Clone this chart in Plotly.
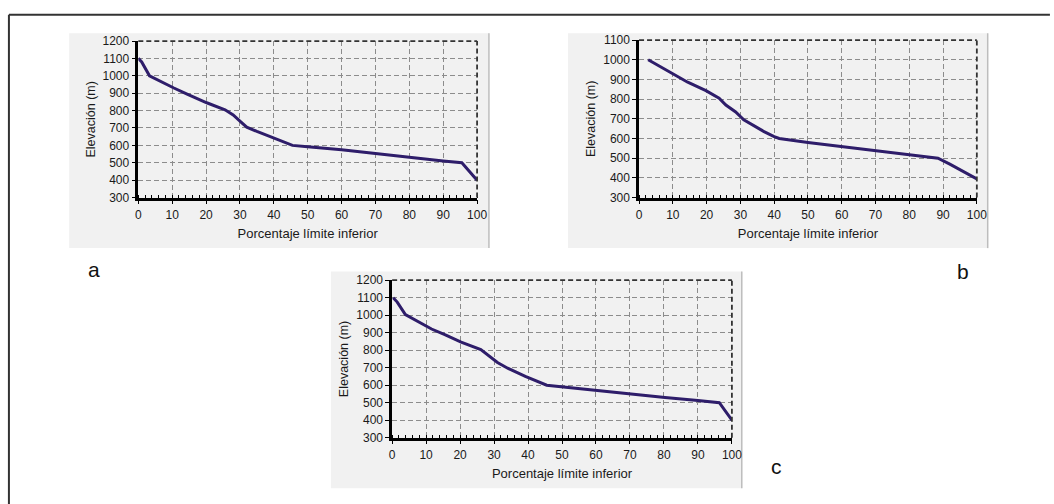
import plotly.graph_objects as go

# ---- data ----
pct_a = [0, 1, 3.3, 6.6, 10.5, 14.4, 20.2, 25.6, 28, 30, 32, 35, 39.7, 45.5, 50, 60, 70, 80, 90, 95.5, 100]
elev_a = [1100, 1080, 1000, 967, 930, 895, 845, 805, 775, 740, 705, 680, 645, 600, 592, 575, 553, 530, 510, 500, 400]

pct_b = [2.7, 9.6, 14.4, 19.8, 23.7, 25.7, 28.6, 31, 34, 37, 40, 41.5, 50, 60, 70, 80, 88.5, 92, 100]
elev_b = [1000, 934, 886, 843, 805, 770, 735, 695, 665, 635, 610, 600, 580, 558, 537, 517, 500, 470, 395]

pct_c = [0.3, 1.5, 3.9, 7.7, 11.6, 15.5, 20.3, 26.1, 28.6, 31, 34, 39.2, 45.5, 50.3, 60.9, 70.7, 80.3, 90, 96.3, 100]
elev_c = [1100, 1075, 1003, 962, 921, 889, 846, 803, 765, 730, 697, 650, 600, 590, 570, 550, 530, 512, 500, 400]

x_ticks = list(range(0, 101, 10))
y_range_a = [300, 1200]
y_range_b = [300, 1100]
y_range_c = [300, 1200]
panel_labels = ["a", "b", "c"]
x_title = "Porcentaje límite inferior"
y_title = "Elevación (m)"

W, H = 1054, 504
def fx(x):
    return x / W
def fy(y):
    return 1 - y / H

FONT = "Arial, Liberation Sans, sans-serif"
LINE_COLOR = "#2e1d6a"
GRID = "#8c8c8c"

panels = [
    dict(x=pct_a, y=elev_a, yr=y_range_a, dx=(137, 480), dy=(35, 196),
         bg=(67, 27, 492, 248), lab=panel_labels[0], lp=(92, 270)),
    dict(x=pct_b, y=elev_b, yr=y_range_b, dx=(644, 986), dy=(34, 196),
         bg=(572, 27, 997, 248), lab=panel_labels[1], lp=(972, 272)),
    dict(x=pct_c, y=elev_c, yr=y_range_c, dx=(394, 738), dy=(281, 443),
         bg=(332, 272, 748, 495), lab=panel_labels[2], lp=(783, 473)),
]

fig = go.Figure()
shapes = []
annotations = []
layout = {}

# outer frame (only left and top edges visible in the reference)
shapes.append(dict(type="line", xref="paper", yref="paper", x0=fx(6), x1=fx(1060), y0=fy(8), y1=fy(8),
                   line=dict(color="#333333", width=2)))
shapes.append(dict(type="line", xref="paper", yref="paper", x0=fx(6), x1=fx(6), y0=fy(8), y1=fy(520),
                   line=dict(color="#333333", width=2)))

for i, p in enumerate(panels, start=1):
    xa = "x" if i == 1 else f"x{i}"
    ya = "y" if i == 1 else f"y{i}"
    xkey = "xaxis" if i == 1 else f"xaxis{i}"
    ykey = "yaxis" if i == 1 else f"yaxis{i}"

    # gray panel background
    x0, y0, x1, y1 = p["bg"]
    shapes.append(dict(type="rect", xref="paper", yref="paper", layer="below",
                       x0=fx(x0), x1=fx(x1), y0=fy(y1), y1=fy(y0),
                       fillcolor="#f1f1f1", line=dict(width=0)))
    shapes.append(dict(type="line", xref="paper", yref="paper", layer="below",
                       x0=fx(x1), x1=fx(x1), y0=fy(y1), y1=fy(y0),
                       line=dict(color="#bdbdbd", width=1.5)))

    fig.add_trace(go.Scatter(x=p["x"], y=p["y"], mode="lines", xaxis=xa, yaxis=ya,
                             line=dict(color=LINE_COLOR, width=3),
                             showlegend=False, hoverinfo="skip"))

    layout[xkey] = dict(domain=[fx(p["dx"][0]), fx(p["dx"][1])], anchor=ya,
                        range=[0, 100], tickvals=x_ticks, showgrid=True,
                        gridcolor=GRID, griddash="5px,3px", gridwidth=1,
                        showline=True, linecolor="black", linewidth=2.5,
                        ticks="outside", ticklen=4, tickcolor="black", tickwidth=1,
                        minor=dict(ticks="inside", ticklen=3, dtick=2, tickcolor="black",
                                   showgrid=False),
                        zeroline=False, fixedrange=True,
                        tickfont=dict(family=FONT, size=12, color="#1a1a1a"),
                        title=dict(text=x_title, standoff=9,
                                   font=dict(family=FONT, size=13, color="#1a1a1a")))
    layout[ykey] = dict(domain=[fy(p["dy"][1]), fy(p["dy"][0])], anchor=xa,
                        range=p["yr"], dtick=100, showgrid=True,
                        gridcolor=GRID, griddash="5px,3px", gridwidth=1,
                        showline=True, linecolor="black", linewidth=2.5,
                        ticks="outside", ticklen=4, tickcolor="black", tickwidth=1,
                        zeroline=False, fixedrange=True,
                        tickfont=dict(family=FONT, size=12, color="#1a1a1a"),
                        title=dict(text=y_title, standoff=5,
                                   font=dict(family=FONT, size=12.5, color="#1a1a1a")))

    # dashed top and right borders of plot area
    shapes.append(dict(type="line", xref=f"{xa} domain", yref=f"{ya} domain",
                       x0=0, x1=1, y0=1, y1=1, line=dict(color="#333333", width=1.8, dash="5px,3px")))
    shapes.append(dict(type="line", xref=f"{xa} domain", yref=f"{ya} domain",
                       x0=1, x1=1, y0=0, y1=1, line=dict(color="#333333", width=1.8, dash="5px,3px")))

    annotations.append(dict(text=p["lab"], xref="paper", yref="paper",
                            x=fx(p["lp"][0]), y=fy(p["lp"][1]), showarrow=False,
                            xanchor="center", yanchor="middle",
                            font=dict(family=FONT, size=21, color="#111111")))

fig.update_layout(width=W, height=H, margin=dict(l=0, r=0, t=0, b=0),
                  paper_bgcolor="white", plot_bgcolor="white",
                  shapes=shapes, annotations=annotations, showlegend=False, **layout)

fig.write_html("out.html", config={"displayModeBar": False},
               post_script="document.body.style.margin='0';"
                           "document.documentElement.style.overflow='hidden';"
                           "document.body.style.overflow='hidden';")
